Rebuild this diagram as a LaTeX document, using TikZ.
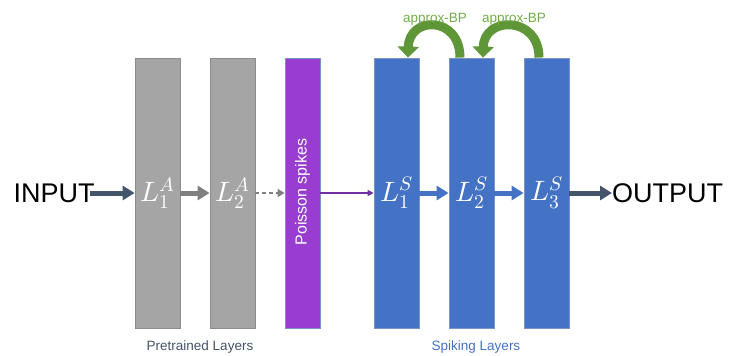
\documentclass[tikz,border=0pt]{standalone}
\usepackage{fontspec}
\usepackage{unicode-math}
\setmainfont{Liberation Sans}
\setmathfont{Latin Modern Math}
\usepackage{tikz}
\usetikzlibrary{arrows.meta}

\definecolor{slate}{HTML}{44546A}
\definecolor{barGray}{HTML}{A5A5A5}
\definecolor{arrGray}{HTML}{7F7F7F}
\definecolor{spkPurple}{HTML}{993DD0}
\definecolor{arrPurple}{HTML}{7030A0}
\definecolor{snnBlue}{HTML}{4472C4}
\definecolor{edgeBlue}{HTML}{7A93C6}
\definecolor{bpGreen}{HTML}{70AD47}
\definecolor{bpDark}{HTML}{5E9638}

\tikzset{
  layer/.style={rectangle, minimum width=45pt, minimum height=270pt, inner sep=0pt,
    line width=0.8pt, text=white, font=\fontsize{28}{30}\selectfont},
  annbar/.style={layer, fill=barGray, draw=arrGray!90},
  snnbar/.style={layer, fill=snnBlue, draw=edgeBlue},
  fat/.style={line width=5pt, -{Triangle[width=14pt,length=12pt]}},
  bparrow/.style={bpDark, line width=9pt, -{Triangle[width=21pt,length=11pt]}},
  bigtxt/.style={font=\fontsize{27}{30}\selectfont, inner sep=0pt},
  smalltxt/.style={font=\fontsize{13.5}{15}\selectfont, anchor=base},
}

\begin{document}
\begin{tikzpicture}[x=1pt,y=-1pt]
  \useasboundingbox (0,0) rectangle (729,356);

  % layers
  \node[annbar] (a1) at (157.5,193) {$L_1^A$};
  \node[annbar] (a2) at (232.5,193) {$L_2^A$};
  \node[layer, minimum width=35pt, fill=spkPurple, draw=edgeBlue] (ps) at (302.5,193) {};
  \node[rotate=90, text=white, font=\fontsize{16}{18}\selectfont] (pstxt) at (302.5,192) {Poisson spikes};
  \node[snnbar] (s1) at (396.5,193) {$L_1^S$};
  \node[snnbar] (s2) at (471.5,193) {$L_2^S$};
  \node[snnbar] (s3) at (546.5,193) {$L_3^S$};

  \node[bigtxt] (in) at (54,193) {INPUT};
  \node[bigtxt, anchor=west] (out) at (612,193) {OUTPUT};
  \coordinate (instart) at (90,193);

  % forward arrows
  \draw[fat, slate] (instart) -- (a1);
  \draw[fat, arrGray] (a1) -- (a2);
  \draw[arrGray, line width=2pt, dash pattern=on 4pt off 3pt,
    -{Triangle[width=8pt,length=7pt]}] (a2) -- (ps);
  \draw[arrPurple, line width=1.5pt, -{Triangle[width=6pt,length=6pt]}] (ps) -- (s1);
  \draw[fat, snnBlue] (s1) -- (s2);
  \draw[fat, snnBlue] (s2) -- (s3);
  \draw[fat, slate] (s3) -- (out);

  % approx-BP arcs
  \draw[bparrow] ([xshift=-11.5pt]s2.north) .. controls +(0,-42) and +(1,-42) .. ([xshift=11.5pt]s1.north);
  \draw[bparrow] ([xshift=-7.5pt]s3.north) .. controls +(0,-42) and +(1,-42) .. ([xshift=11.5pt]s2.north);
  \node[smalltxt, text=bpGreen] (bp1) at (435,22) {approx-BP};
  \node[smalltxt, text=bpGreen] (bp2) at (514,22) {approx-BP};

  % captions
  \node[smalltxt, text=slate] (pre) at (200,350) {Pretrained Layers};
  \node[smalltxt, text=snnBlue] (spk) at (476,350) {Spiking Layers};
\end{tikzpicture}
\end{document}
